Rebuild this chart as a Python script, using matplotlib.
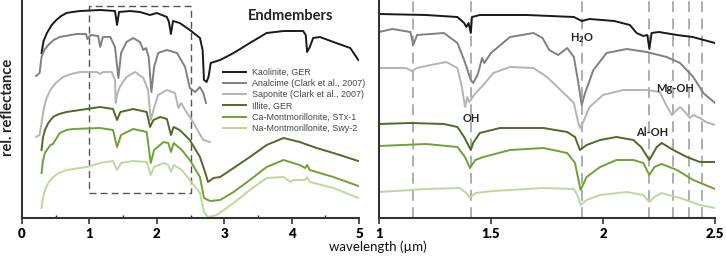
import matplotlib
matplotlib.use("Agg")
import matplotlib.pyplot as plt
from matplotlib.patches import Rectangle

plt.rcParams['font.family'] = ['Lato', 'DejaVu Sans']
plt.rcParams['mathtext.fontset'] = 'custom'
plt.rcParams['mathtext.rm'] = 'Lato'
plt.rcParams['mathtext.bf'] = 'Lato:bold'

# --- endmember spectra, full range (0-5 um), offset rel. reflectance ---
kaol_wl = [0.29, 0.32, 0.37, 0.44, 0.51, 0.58, 0.66, 0.75, 0.86, 1.16, 1.38, 1.41, 1.44, 1.60, 1.75, 1.90, 2.00, 2.15, 2.18, 2.21,
           2.24, 2.34, 2.49, 2.64, 2.68, 2.70, 2.74, 2.77, 2.80, 2.94, 3.14, 3.38, 3.63, 3.88, 4.17, 4.21, 4.23, 4.27, 4.32, 4.42,
           4.62, 4.87, 4.99]
kaol_r = [165, 177, 185, 193, 198, 202, 205, 206, 207, 208, 207, 193, 206, 207, 206, 203, 205, 201, 196, 184,
          197, 195, 188, 180, 168, 138, 136, 142, 155, 158, 165, 175, 185, 187, 187, 183, 166, 171, 180, 181,
          176, 170, 158]

anal_wl = [0.21, 0.26, 0.29, 0.33, 0.39, 0.47, 0.56, 0.81, 0.95, 0.97, 1.02, 1.13, 1.16, 1.20, 1.31, 1.38, 1.43, 1.47, 1.55, 1.65,
           1.75, 1.80, 1.84, 1.88, 1.92, 1.96, 2.02, 2.15, 2.30, 2.42, 2.49, 2.57, 2.64, 2.69, 2.73]
anal_r = [142, 145, 161, 168, 173, 178, 181, 184, 184, 179, 183, 182, 171, 181, 181, 171, 140, 165, 176, 180,
          176, 168, 170, 161, 126, 151, 165, 168, 165, 151, 130, 126, 131, 125, 115]

sapo_wl = [0.21, 0.26, 0.29, 0.32, 0.36, 0.42, 0.50, 0.61, 0.73, 0.86, 1.11, 1.16, 1.20, 1.33, 1.38, 1.39, 1.41, 1.45, 1.55, 1.68,
           1.80, 1.87, 1.91, 1.95, 2.02, 2.15, 2.27, 2.32, 2.36, 2.42, 2.52, 2.62, 2.69, 2.79]
sapo_r = [81, 83, 95, 108, 119, 128, 135, 141, 144, 146, 146, 144, 146, 146, 138, 115, 123, 131, 141, 146,
          140, 128, 98, 108, 123, 128, 125, 110, 115, 108, 98, 86, 78, 76]

illi_wl = [0.29, 0.31, 0.34, 0.39, 0.46, 0.55, 0.66, 0.96, 1.16, 1.35, 1.41, 1.46, 1.65, 1.85, 1.90, 1.95, 2.05, 2.15, 2.21, 2.25,
           2.34, 2.49, 2.64, 2.72, 2.76, 2.84, 2.94, 3.14, 3.38, 3.63, 3.88, 4.12, 4.37, 4.62, 4.99]
illi_r = [68, 80, 88, 95, 101, 104, 106, 109, 111, 109, 98, 106, 109, 106, 91, 98, 101, 99, 83, 91,
          88, 78, 61, 45, 36, 40, 41, 50, 61, 73, 80, 76, 70, 65, 57]

camo_wl = [0.29, 0.31, 0.34, 0.42, 0.46, 0.56, 0.66, 0.76, 1.16, 1.35, 1.41, 1.47, 1.65, 1.85, 1.91, 1.96, 2.10, 2.17, 2.21, 2.25,
           2.37, 2.49, 2.64, 2.70, 2.79, 2.94, 3.14, 3.38, 3.63, 3.88, 4.12, 4.20, 4.23, 4.27, 4.62, 4.99]
camo_r = [45, 57, 65, 73, 74, 85, 88, 89, 90, 88, 71, 83, 89, 86, 55, 68, 76, 75, 66, 75,
          68, 58, 41, 20, 17, 18, 26, 38, 51, 58, 53, 50, 53, 48, 41, 32]

namo_wl = [0.29, 0.31, 0.34, 0.39, 0.46, 0.55, 0.66, 0.96, 1.16, 1.35, 1.41, 1.47, 1.65, 1.85, 1.91, 1.96, 2.10, 2.17, 2.21, 2.25,
           2.37, 2.49, 2.64, 2.70, 2.76, 2.89, 3.14, 3.38, 3.63, 3.88, 3.98, 4.02, 4.20, 4.23, 4.27, 4.62, 4.99]
namo_r = [10, 20, 28, 35, 41, 45, 48, 51, 55, 57, 48, 55, 57, 56, 43, 51, 55, 53, 46, 53,
          48, 38, 25, 6, 1, 3, 15, 28, 40, 41, 36, 38, 38, 41, 36, 30, 20]

# --- zoom 1-2.5 um ---
kaol_wl_z = [1.00, 1.21, 1.35, 1.38, 1.39, 1.40, 1.41, 1.415, 1.45, 1.66, 1.87, 1.905, 1.94, 2.05, 2.12, 2.15, 2.18, 2.198, 2.207, 2.217,
             2.25, 2.33, 2.40, 2.50]
kaol_r_z = [204, 203, 201, 195, 191, 195, 185, 201, 203, 203, 201, 197, 199, 197, 193, 185, 182, 183, 169, 185,
            186, 183, 181, 175]

anal_wl_z = [1.00, 1.06, 1.14, 1.153, 1.17, 1.29, 1.35, 1.38, 1.41, 1.42, 1.44, 1.45, 1.46, 1.47, 1.50, 1.585, 1.69, 1.73, 1.76, 1.80,
             1.84, 1.87, 1.89, 1.905, 1.92, 1.957, 2.016, 2.106, 2.195, 2.284, 2.344, 2.403, 2.448, 2.50]
anal_r_z = [186, 189, 186, 173, 183, 185, 175, 158, 138, 135, 143, 151, 160, 155, 165, 181, 185, 180, 168, 163,
            170, 161, 135, 113, 125, 148, 165, 169, 166, 161, 155, 141, 125, 115]

sapo_wl_z = [1.00, 1.12, 1.146, 1.17, 1.23, 1.30, 1.35, 1.37, 1.384, 1.394, 1.403, 1.418, 1.436, 1.466, 1.51, 1.585, 1.69, 1.75, 1.82, 1.87,
             1.89, 1.897, 1.91, 1.94, 2.00, 2.09, 2.195, 2.254, 2.277, 2.307, 2.32, 2.344, 2.366, 2.388, 2.403, 2.433, 2.46, 2.50]
sapo_r_z = [150, 150, 147, 150, 153, 156, 150, 131, 111, 121, 116, 121, 126, 133, 145, 151, 150, 141, 126, 115,
            95, 90, 95, 111, 123, 128, 128, 126, 115, 103, 106, 111, 106, 100, 103, 100, 96, 93]

illi_wl_z = [1.00, 1.14, 1.29, 1.35, 1.38, 1.41, 1.42, 1.45, 1.54, 1.734, 1.84, 1.875, 1.897, 1.927, 1.987, 2.06, 2.135, 2.17, 2.207, 2.24,
             2.262, 2.314, 2.374, 2.433, 2.50]
illi_r_z = [94, 95, 94, 91, 81, 68, 75, 85, 90, 90, 86, 81, 68, 73, 78, 81, 78, 71, 58, 71,
            75, 68, 61, 56, 56]

camo_wl_z = [1.00, 1.21, 1.35, 1.384, 1.406, 1.43, 1.466, 1.585, 1.734, 1.84, 1.875, 1.90, 1.927, 1.987, 2.06, 2.135, 2.18, 2.207, 2.23, 2.262,
             2.33, 2.403, 2.50]
camo_r_z = [72, 74, 71, 61, 50, 58, 61, 68, 70, 65, 55, 28, 41, 51, 58, 58, 55, 43, 51, 54,
            48, 38, 29]

namo_wl_z = [1.00, 1.21, 1.36, 1.39, 1.406, 1.43, 1.51, 1.734, 1.87, 1.89, 1.90, 1.927, 1.987, 2.106, 2.18, 2.207, 2.23, 2.262, 2.344, 2.433,
             2.50]
namo_r_z = [26, 29, 30, 25, 20, 25, 27, 30, 29, 21, 13, 18, 23, 26, 23, 16, 21, 25, 20, 13,
            10]

names = ['Kaolinite, GER', 'Analcime (Clark et al., 2007)', 'Saponite (Clark et al., 2007)',
         'Illite, GER', 'Ca-Montmorillonite, STx-1', 'Na-Montmorillonite, Swy-2']
colors = ['#1a1a1a', '#808080', '#b4b4b4', '#4e6b26', '#6ea332', '#bcd99a']

# absorption features marked in the zoom
feature_wl = [1.153, 1.409, 1.905, 2.207, 2.314, 2.385, 2.44]
feature_labels = [r'H$_{\mathbf{2}}$O', 'Mg-OH', 'OH', 'Al-OH']
feature_label_x = [1.905, 2.32, 1.41, 2.22]
feature_label_y = [180, 130, 100, 86]

full = [(kaol_wl, kaol_r), (anal_wl, anal_r), (sapo_wl, sapo_r),
        (illi_wl, illi_r), (camo_wl, camo_r), (namo_wl, namo_r)]
zoom = [(kaol_wl_z, kaol_r_z), (anal_wl_z, anal_r_z), (sapo_wl_z, sapo_r_z),
        (illi_wl_z, illi_r_z), (camo_wl_z, camo_r_z), (namo_wl_z, namo_r_z)]

fig = plt.figure(figsize=(7.26, 2.63), dpi=100)
ax1 = fig.add_axes([22/726, 45/263, 337/726, 218/263])
ax2 = fig.add_axes([379/726, 45/263, 336/726, 218/263])

for (wl, r), c, n in zip(full, colors, names):
    ax1.plot(wl, r, color=c, lw=1.4, label=n, solid_joinstyle='round')
for (wl, r), c in zip(zoom, colors):
    ax2.plot(wl, r, color=c, lw=1.4, solid_joinstyle='round')

# dashed box = zoom window
ax1.add_patch(Rectangle((1.0, 25), 1.5, 187, fill=False, ec='#555555', lw=1.0, ls=(0, (5, 3))))

for w in feature_wl:
    ax2.axvline(w, color='#a8a8a8', lw=1.3, ls=(0, (6, 3.5)), zorder=0)
for t, x, y in zip(feature_labels, feature_label_x, feature_label_y):
    ax2.text(x, y, t, ha='center', va='center', fontsize=8, fontweight='bold', color='#222222')

ax1.text(3.98, 202, 'Endmembers', ha='center', va='center', fontsize=10.5, fontweight='bold', color='#222222')

leg = ax1.legend(loc='upper left', bbox_to_anchor=(0.585, 0.705), frameon=False,
                 prop={'family': 'Liberation Sans', 'size': 6.4}, handlelength=2.6,
                 handletextpad=0.7, labelspacing=0.25, borderaxespad=0)
for t in leg.get_texts():
    t.set_color('#444444')

ax1.set_xlim(0, 5)
ax2.set_xlim(1, 2.5)
for ax in (ax1, ax2):
    ax.set_ylim(0, 218)
    ax.set_yticks([])
    for s in ('top', 'right'):
        ax.spines[s].set_visible(False)
    for s in ('left', 'bottom'):
        ax.spines[s].set_linewidth(1.5)
        ax.spines[s].set_color('#333333')
    ax.tick_params(axis='x', direction='out', length=4, width=1.2, color='#333333',
                   labelsize=9.5, pad=3.5)

ax1.set_xticks([0, 1, 2, 3, 4, 5])
ax1.set_xticklabels(['0', '1', '2', '3', '4', '5'], fontweight='heavy')
ax1.set_xticks([0.5, 1.5, 2.5, 3.5, 4.5], minor=True)
ax1.tick_params(axis='x', which='minor', direction='in', length=2.5, width=1, color='#333333')
ax2.set_xticks([1, 1.5, 2, 2.5])
ax2.set_xticklabels(['1', '1.5', '2', '2.5'], fontweight='heavy')

fig.text(378/726, 1 - 247/263, 'wavelength (µm)', ha='center', va='center', fontsize=9.5,
         color='#111111')
fig.text(8/726, 1 - 107/263, 'rel. reflectance', ha='center', va='center', rotation=90,
         fontsize=10.5, fontweight='bold', color='#222222')

fig.savefig('out.png', dpi=100)
